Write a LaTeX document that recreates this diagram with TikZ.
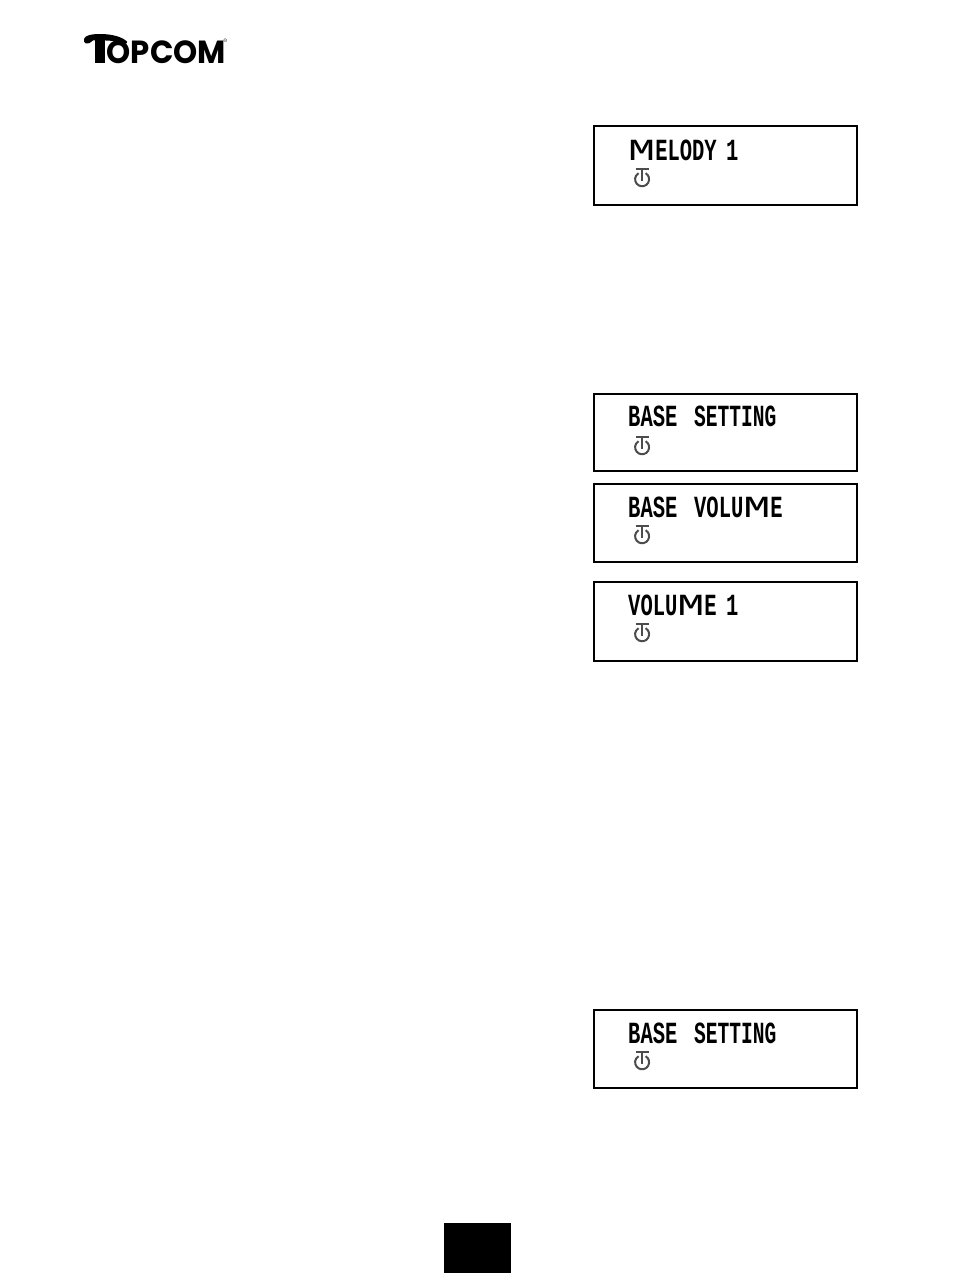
\documentclass[tikz,border=0pt]{standalone}
\usepackage{fontspec}
\usepackage{graphicx}
\newfontfamily\lcdfont{Liberation Mono}[UprightFont=* Bold]
\newfontfamily\lcdthin{Liberation Mono}
\newfontfamily\logofont{Poppins}[UprightFont=* Bold]
\newcommand{\wideM}{\scalebox{2.2}[1]{\lcdthin M}}
\newcommand{\lcdtext}[1]{\scalebox{1}[1.5]{\fontsize{20.5}{20.5}\selectfont\lcdfont #1}}
\newcommand{\poweron}[1]{%
  \draw[iconline] ([shift={(3.6,-5.8)}]#1) arc[start angle=-60,end angle=240,radius=7];
  \draw[iconline] ([shift={(0,-10)}]#1) -- ([shift={(0,2)}]#1);
  \draw[iconline] ([shift={(-6.5,-10)}]#1) -- ([shift={(6.5,-10)}]#1);
}
\tikzset{
  lcdbox/.style={draw=black,line width=2pt,fill=white,minimum width=263pt,inner sep=0pt,anchor=north west},
  lcdlabel/.style={anchor=west,inner sep=0pt,text=black},
  iconline/.style={draw=black!70,line width=2pt},
}
\begin{document}
\begin{tikzpicture}[x=1pt,y=-1pt]
\useasboundingbox[fill=white] (0,0) rectangle (954,1273);
% logo
\node[anchor=west,inner sep=0pt] (logo) at (106.5,52.5) {\scalebox{0.96}[1]{\fontsize{32}{32}\selectfont\logofont OPCOM}};
\node[anchor=west,inner sep=0pt] (reg) at (223.5,41) {\fontsize{5}{5}\selectfont ®};
\fill[black] (84,39) .. controls (85,35.5) and (91,34) .. (100,34) .. controls (110,34) and (121,36) .. (127,41.5) .. controls (128,43.5) and (126,44) .. (124,43.5) .. controls (118,41) and (108,40) .. (93,40.5) .. controls (91,43) and (88,44) .. (86,43.5) .. controls (84,43) and (83.5,41) .. (84,39) -- cycle;
\fill[black] (95,38) rectangle (105,63);
% display boxes
\node[lcdbox,minimum height=79pt] (d1) at (592.5,125.5) {};
\node[lcdbox,minimum height=77.5pt] (d2) at (592.5,392.5) {};
\node[lcdbox,minimum height=78.5pt] (d3) at (592.5,482.5) {};
\node[lcdbox,minimum height=79.5pt] (d4) at (592.5,580.5) {};
\node[lcdbox,minimum height=78.5pt] (d5) at (592.5,1008.5) {};
% display text
\node[lcdlabel] (t1) at (628,150) {\lcdtext{\wideM ELODY\hspace{-3pt} 1}};
\node[lcdlabel] (t2) at (628,416) {\lcdtext{BASE\hspace{4.5pt} \scalebox{0.955}[1]{SETTING}}};
\node[lcdlabel] (t3) at (628,507) {\lcdtext{BASE\hspace{4.5pt} VOLU\wideM E}};
\node[lcdlabel] (t4) at (628,605) {\lcdtext{VOLU\wideM E\hspace{-3pt} 1}};
\node[lcdlabel] (t5) at (628,1033) {\lcdtext{BASE\hspace{4.5pt} \scalebox{0.955}[1]{SETTING}}};
% standby icons
\coordinate (i1) at (642,179);
\coordinate (i2) at (642,447);
\coordinate (i3) at (642,536);
\coordinate (i4) at (642,634);
\coordinate (i5) at (642,1062);
\poweron{i1}\poweron{i2}\poweron{i3}\poweron{i4}\poweron{i5}
% page number tab
\fill[black] (444,1223) rectangle (511,1273);
\end{tikzpicture}
\end{document}
